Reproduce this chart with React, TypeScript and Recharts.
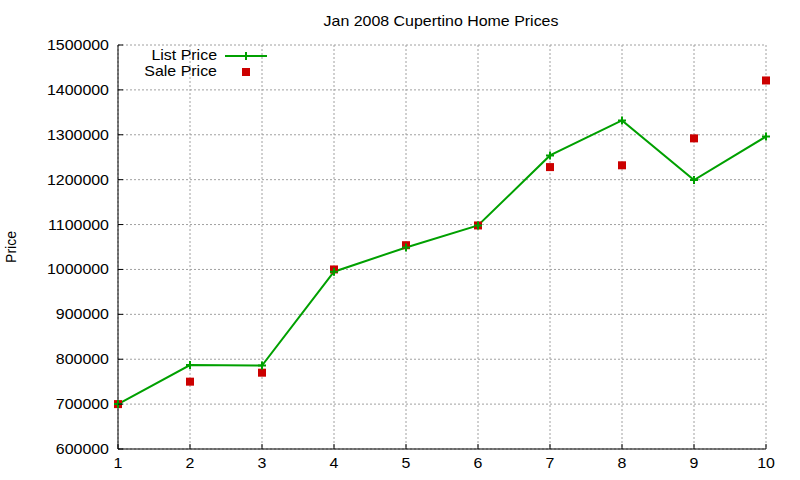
import React from 'react';
import { ComposedChart, Line, Scatter, XAxis, YAxis, CartesianGrid, Legend } from 'recharts';

const houses = [1, 2, 3, 4, 5, 6, 7, 8, 9, 10];
const listPrice = [700000, 787000, 786000, 995000, 1049000, 1098000, 1254000, 1332000, 1199000, 1296000];
const salePrice = [700000, 750000, 770000, 1000000, 1054000, 1098000, 1228000, 1232000, 1292000, 1421000];
const xTicks = [1, 2, 3, 4, 5, 6, 7, 8, 9, 10];
const yTicks = [600000, 700000, 800000, 900000, 1000000, 1100000, 1200000, 1300000, 1400000, 1500000];
const title = 'Jan 2008 Cupertino Home Prices';
const yLabel = 'Price';
const listName = 'List Price';
const saleName = 'Sale Price';

const data = houses.map((h, i) => ({ house: h, list: listPrice[i], sale: salePrice[i] }));

const GREEN = '#00a000';
const RED = '#cc0000';
const FONT = '"Liberation Sans", Arial, sans-serif';
const SX = 1.14;

function SText({ x, y, anchor = 'middle', rotate = 0, size = 14, children }: any) {
  const t = rotate ? `translate(${x} ${y}) rotate(${rotate})` : `translate(${x} ${y}) scale(${SX} 1)`;
  return (
    <text transform={t} textAnchor={anchor} fontSize={size} fontFamily={FONT} fill="#000">
      {children}
    </text>
  );
}

const TICK = 5;

const BottomTick = (props: any) => {
  const { x, y, payload } = props;
  return (
    <g>
      <line x1={x} y1={y} x2={x} y2={y - TICK} stroke="#000" strokeWidth={1} />
      <SText x={x} y={y + 19}>{payload.value}</SText>
    </g>
  );
};
const TopTick = (props: any) => {
  const { x, y } = props;
  return <line x1={x} y1={y} x2={x} y2={y + TICK} stroke="#000" strokeWidth={1} />;
};
const LeftTick = (props: any) => {
  const { x, y, payload } = props;
  return (
    <g>
      <line x1={x} y1={y} x2={x + TICK} y2={y} stroke="#000" strokeWidth={1} />
      <SText x={x - 9} y={y + 5} anchor="end">{payload.value}</SText>
    </g>
  );
};
const RightTick = (props: any) => {
  const { x, y } = props;
  return <line x1={x} y1={y} x2={x - TICK} y2={y} stroke="#000" strokeWidth={1} />;
};

const PlusDot = (props: any) => {
  const { cx, cy, index } = props;
  if (cx == null || cy == null) return <g key={index} />;
  return (
    <path
      key={index}
      d={`M${cx - 4},${cy}H${cx + 4}M${cx},${cy - 4}V${cy + 4}`}
      stroke={GREEN}
      strokeWidth={2}
      fill="none"
    />
  );
};

const SquareShape = (props: any) => {
  const { cx, cy } = props;
  return <rect x={cx - 4} y={cy - 4} width={8} height={8} fill={RED} />;
};

const Overlay = () => (
  <svg width={800} height={90} style={{ display: 'block' }}>
    <SText x={441} y={26}>{title}</SText>
    <SText x={217} y={60} anchor="end">{listName}</SText>
    <line x1={225} y1={56} x2={267} y2={56} stroke={GREEN} strokeWidth={2} />
    <path d="M242,56H250M246,52V60" stroke={GREEN} strokeWidth={2} fill="none" />
    <SText x={217} y={76} anchor="end">{saleName}</SText>
    <rect x={242} y={68} width={8} height={8} fill={RED} />
  </svg>
);

export default function App() {
  return (
    <div style={{ position: 'absolute', left: 0, top: 0, width: 800, height: 480, background: '#fff' }}>
      <ComposedChart
        width={800}
        height={480}
        data={data}
        margin={{ top: 45, right: 34, bottom: 0, left: 38 }}
      >
        <CartesianGrid stroke="#a0a0a0" strokeDasharray="2 2" strokeWidth={1} />
        <XAxis
          dataKey="house"
          type="number"
          domain={[1, 10]}
          ticks={xTicks}
          interval={0}
          height={31}
          tickSize={0}
          tickMargin={0}
          tickLine={false}
          axisLine={{ stroke: '#000', strokeWidth: 1 }}
          tick={<BottomTick />}
        />
        <XAxis
          xAxisId="top"
          orientation="top"
          type="number"
          domain={[1, 10]}
          ticks={xTicks}
          interval={0}
          height={0}
          tickSize={0}
          tickMargin={0}
          tickLine={false}
          axisLine={{ stroke: '#000', strokeWidth: 1 }}
          tick={<TopTick />}
        />
        <YAxis
          type="number"
          domain={[600000, 1500000]}
          ticks={yTicks}
          interval={0}
          width={80}
          tickSize={0}
          tickMargin={0}
          tickLine={false}
          axisLine={{ stroke: '#000', strokeWidth: 1 }}
          tick={<LeftTick />}
          label={{ content: () => <SText x={16} y={247} rotate={-90}>{yLabel}</SText> }}
        />
        <YAxis
          yAxisId="right"
          orientation="right"
          type="number"
          domain={[600000, 1500000]}
          ticks={yTicks}
          interval={0}
          width={0}
          tickSize={0}
          tickMargin={0}
          tickLine={false}
          axisLine={{ stroke: '#000', strokeWidth: 1 }}
          tick={<RightTick />}
        />
        <Line
          dataKey="list"
          name={listName}
          stroke={GREEN}
          strokeWidth={2}
          dot={<PlusDot />}
          activeDot={false}
          isAnimationActive={false}
        />
        <Scatter dataKey="sale" name={saleName} fill={RED} shape={<SquareShape />} isAnimationActive={false} />
        <Legend
          layout="horizontal"
          verticalAlign="middle"
          align="center"
          content={() => <Overlay />}
          wrapperStyle={{ position: 'absolute', left: 0, top: 0, width: 800, height: 90 }}
        />
      </ComposedChart>
    </div>
  );
}
